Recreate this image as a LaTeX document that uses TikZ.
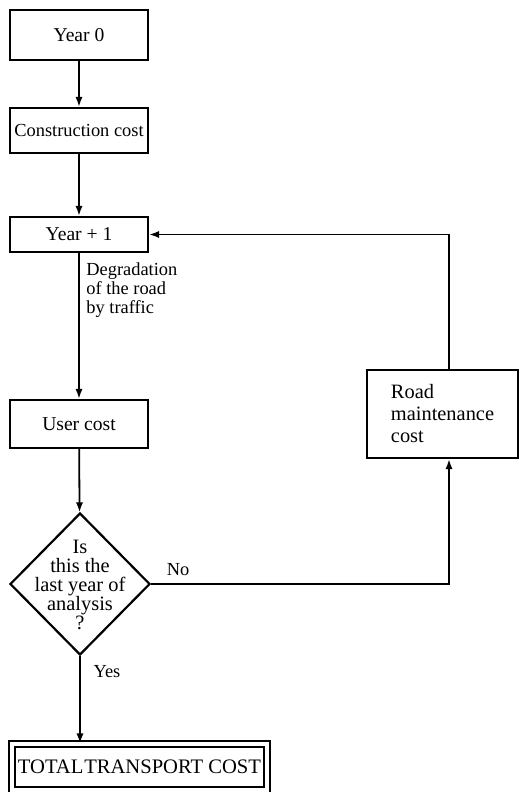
\documentclass[tikz,border=0pt]{standalone}
\usepackage{fontspec}
\setmainfont{Liberation Serif}
\usetikzlibrary{shapes.geometric,arrows.meta,positioning}

\begin{document}
\begin{tikzpicture}[x=0.5pt,y=-0.5pt,
        font=\fontsize{9.2}{9.6}\selectfont,
        box/.style={rectangle, draw, line width=1.1pt, minimum width=69pt, minimum height=#1, inner xsep=1pt, inner ysep=2pt,
                    font=\fontsize{9.8}{11}\selectfont},
        decision/.style={diamond, draw, line width=1.1pt, minimum width=70pt, minimum height=71pt, inner sep=0pt},
        arr/.style={-{Latex[length=5pt,width=3.6pt]}, line width=0.9pt}
    ]
        \useasboundingbox (0,0) rectangle (520,792);

        \node[box=25pt] (year0) at (79,35) {Year 0};
        \node[box=22.5pt, font=\fontsize{9.2}{11}\selectfont] (cons) at (79,130.5) {Construction cost};
        \node[box=17.5pt] (yearplus) at (79,234.5) {Year + 1};
        \node[box=24pt] (user) at (79,424) {User cost};

        \node[decision] (last) at (80,584) {};
        \node[align=center, inner sep=0pt, font=\fontsize{10.2}{9.4}\selectfont] (lasttext) at (80,585) {Is\\this the\\last year of\\analysis\\?};

        \node[box=44pt, minimum width=75.5pt, align=left, font=\fontsize{10.2}{11}\selectfont] (road) at (442.5,414) {Road\\maintenance\\cost};

        \node[rectangle, draw, line width=0.8pt, double, double distance=2.2pt,
              minimum width=127.75pt, minimum height=22.75pt, inner sep=0pt,
              font=\fontsize{10.3}{11}\selectfont] (total) at (139.5,767) {TOTAL\hspace{0.04em}TRANSPORT COST};

        \draw[arr] (year0) -- (cons);
        \draw[arr] (cons) -- (yearplus);
        \draw[arr] (yearplus) -- (user);
        \draw[arr] (user) -- (last);
        \draw[arr] (last.south) -- (last.south |- total.north);
        \draw[arr] (last.east) -| ([xshift=3.25pt]road.south);
        \draw[arr] ([xshift=3.25pt]road.north) |- (yearplus.east);

        \node[anchor=north west, align=left, inner sep=0pt] (degr) at (86,262) {Degradation\\of the road\\by traffic};
        \node (no) at (178,570) {No};
        \node (yes) at (107,672) {Yes};
    \end{tikzpicture}
\end{document}
